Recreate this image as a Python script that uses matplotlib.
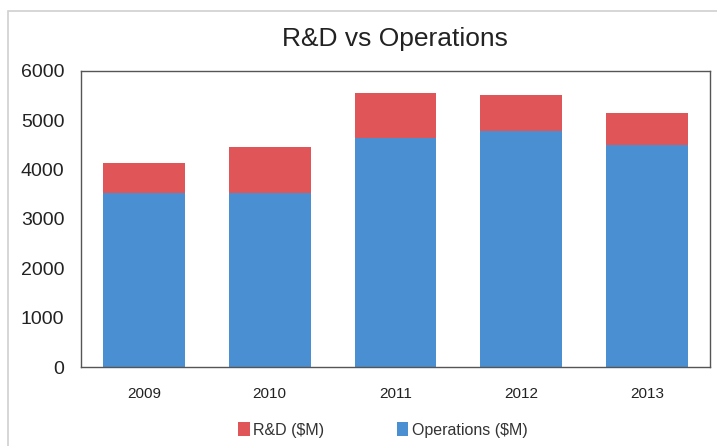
import numpy as np
import matplotlib.pyplot as plt
from matplotlib.patches import Rectangle

plt.rcParams['font.family'] = ['Liberation Sans', 'DejaVu Sans']

# Data
years = ['2009', '2010', '2011', '2012', '2013']
operations = [3530, 3530, 4640, 4790, 4500]
rnd = [610, 930, 920, 730, 650]

blue = '#4a8fd2'
red = '#e05658'

fig = plt.figure(figsize=(7.17, 4.46), dpi=100)
# light outer frame of the chart
fig.patches.append(Rectangle((0.011, -0.01), 1.0, 0.985, transform=fig.transFigure,
                             fill=False, edgecolor='#d0d0d0', linewidth=1.2))

ax = fig.add_axes([0.113, 0.177, 0.877, 0.664])
x = np.arange(len(years))
ax.bar(x, operations, width=0.65, color=blue, label='Operations ($M)')
ax.bar(x, rnd, width=0.65, bottom=operations, color=red, label='R&D ($M)')

ax.set_ylim(0, 6000)
ax.set_xlim(-0.5, len(years) - 0.5)
ax.set_yticks(range(0, 6001, 1000))
ax.set_xticks(x)
ax.set_xticklabels(years)
ax.tick_params(axis='y', labelsize=14, length=0, pad=12, labelcolor='#222222')
ax.tick_params(axis='x', labelsize=11, length=0, pad=14, labelcolor='#222222')
for s in ax.spines.values():
    s.set_color('#555555')
    s.set_linewidth(1.0)

fig.text(0.551, 0.913, 'R&D vs Operations', ha='center', va='center',
         fontsize=19, color='#222222')

h, l = ax.get_legend_handles_labels()
fig.legend(h[::-1], l[::-1], loc='center', bbox_to_anchor=(0.534, 0.036), ncol=2,
           frameon=False, fontsize=11.5, handlelength=0.7, handleheight=0.9,
           columnspacing=4.6, handletextpad=0.2, labelcolor='#333333')

fig.savefig('out.png', dpi=100)
